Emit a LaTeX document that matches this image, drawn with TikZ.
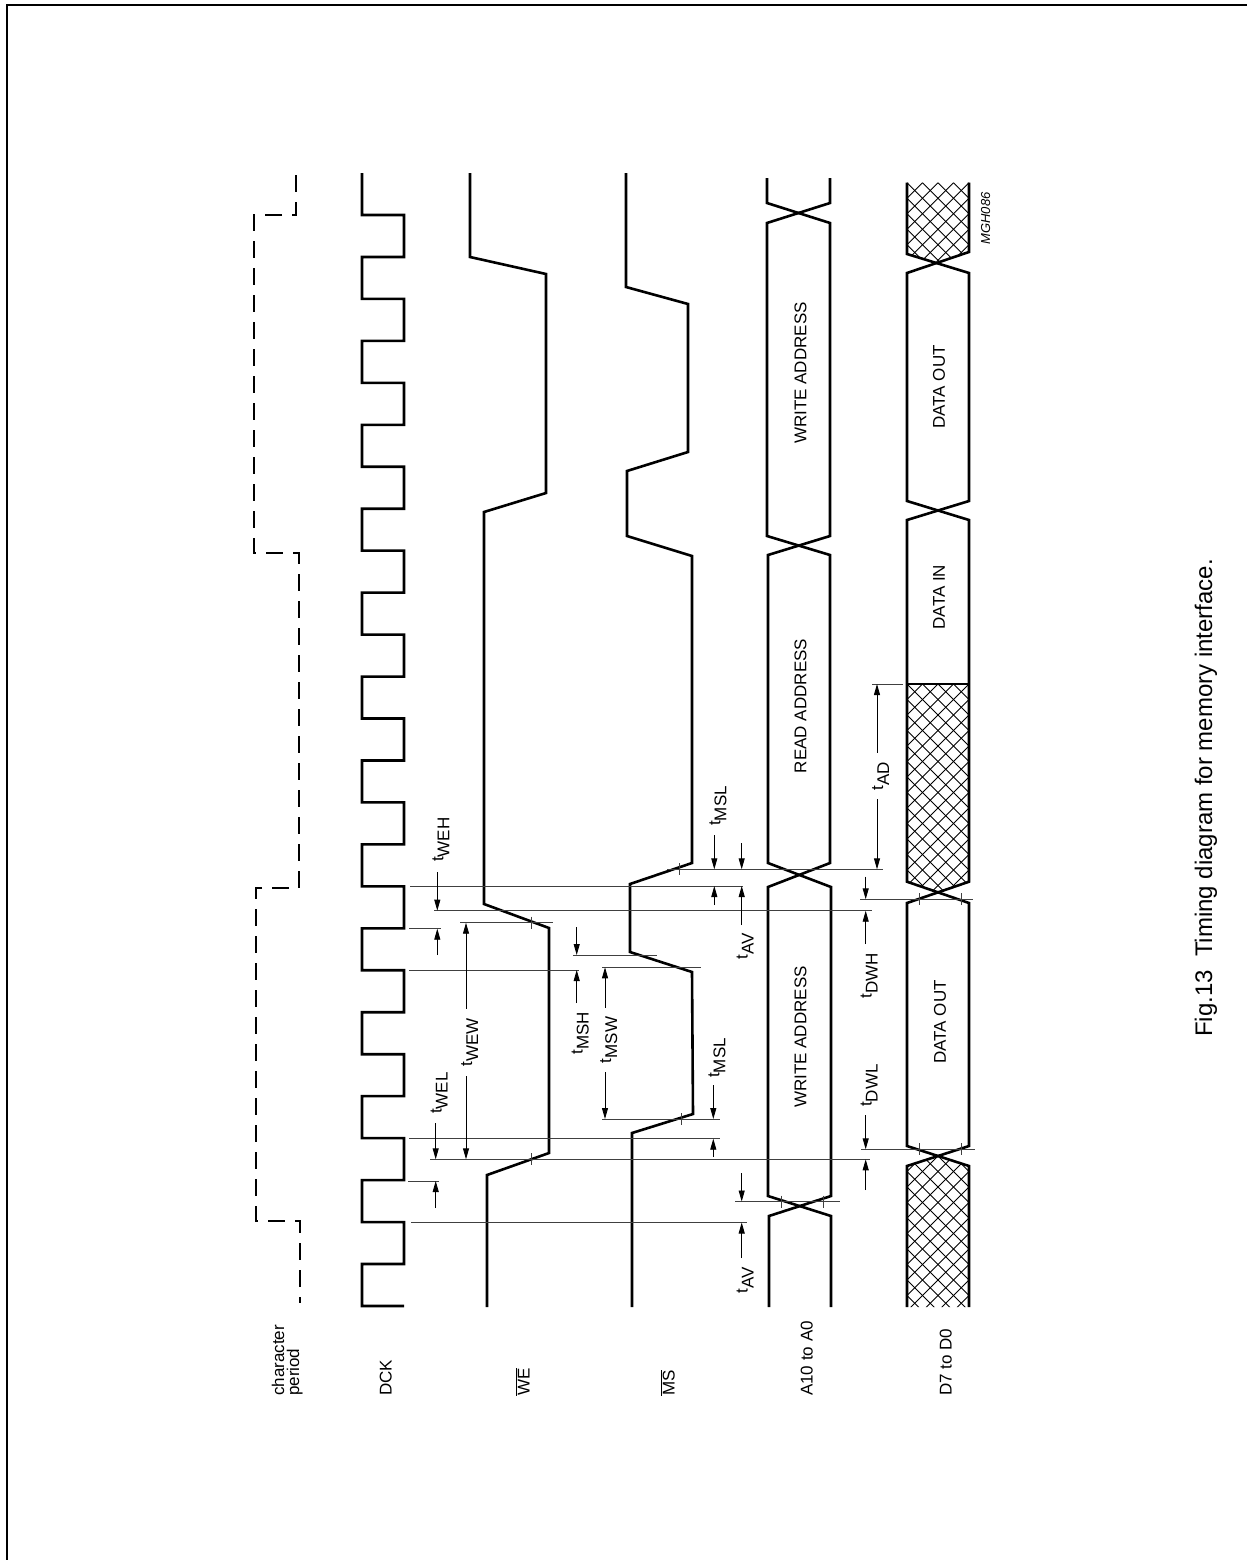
\documentclass[tikz,border=0pt]{standalone}
\usepackage{fontspec}
\setmainfont{Liberation Sans}
\usetikzlibrary{arrows.meta}
\newcommand\tsub[1]{t\raisebox{-6pt}{#1}}
\begin{document}
\begin{tikzpicture}[x=1pt,y=-1pt,
  sig/.style={line width=2.6pt, line join=miter, line cap=butt},
  per/.style={sig, dash pattern=on 17pt off 10pt},
  ext/.style={line width=0.9pt, black!75},
  tk/.style={line width=0.9pt, black!75},
  arr/.style={line width=0.9pt, -{Triangle[length=11pt,width=6pt]}},
  darr/.style={line width=0.9pt, {Triangle[length=11pt,width=6pt]}-{Triangle[length=11pt,width=6pt]}},
  hatchln/.style={line width=0.8pt},
  lbl/.style={font=\fontsize{17}{20}\selectfont, rotate=90, inner sep=0pt},
  mlbl/.style={lbl, fill=white, inner xsep=9pt, inner ysep=1pt},
]
\useasboundingbox (0,0) rectangle (1247,1560);
\draw[line width=2pt] (7,1560) -- (7,5) -- (1247,5);

% character period
\draw[per] (296,175) -- (296,215) -- (254,215) -- (254,553) -- (299,553) -- (299,888) -- (256,888) -- (256,1221) -- (300,1221) -- (300,1303);

% DCK
\draw[sig] (362,173) -- (362,215)
  \foreach \m in {0,...,12} { -- (404,{215+83.92*\m}) -- (404,{256.96+83.92*\m}) -- (362,{256.96+83.92*\m}) -- (362,{298.92+83.92*\m}) }
  -- (404,1305.96);

% WE
\draw[sig] (470,173) -- (470,257) -- (546,274) -- (546,493) -- (484,512) -- (484,904) -- (549,928) -- (549,1153) -- (487,1175) -- (487,1307);

% MS
\draw[sig] (626,173) -- (626,287) -- (688,304) -- (688,452) -- (627,471) -- (627,536) -- (692,556) -- (692,863) -- (630,884) -- (630,952) -- (692,972) -- (693,1114) -- (632,1133) -- (632,1307);

% Address bus
\draw[sig] (767,178) -- (767,203) -- (830,223) -- (830,536) -- (768,555) -- (768,863) -- (831,887) -- (831,1196) -- (769,1216) -- (769,1307);
\draw[sig] (830,178) -- (830,203) -- (767,223) -- (767,536) -- (830,555) -- (830,863) -- (768,887) -- (768,1196) -- (831,1216) -- (831,1307);

% Data bus hatching
\begin{scope}
  \clip (907,182.7) -- (969,182.7) -- (969,252) -- (938,262) -- (907,254) -- cycle;
  \foreach \k in {-16,...,16} {\draw[hatchln] ({907+15.5*\k},182.7) -- ++(250,250); \draw[hatchln] ({969-15.5*\k},182.7) -- ++(-250,250);}
\end{scope}
\begin{scope}
  \clip (907,684) -- (969,684) -- (969,881.7) -- (938,892) -- (907,881.7) -- cycle;
  \foreach \k in {-16,...,16} {\draw[hatchln] ({907+15.5*\k},684) -- ++(250,250); \draw[hatchln] ({969-15.5*\k},684) -- ++(-250,250);}
\end{scope}
\begin{scope}
  \clip (907,1166) -- (938,1156) -- (969,1166) -- (969,1307) -- (907,1307) -- cycle;
  \foreach \k in {-16,...,16} {\draw[hatchln] ({907+15.5*\k},1156) -- ++(250,250); \draw[hatchln] ({969-15.5*\k},1156) -- ++(-250,250);}
\end{scope}
% Data bus outline
\draw[sig] (907,182.7) -- (907,254) -- (969,273) -- (969,501) -- (907,520) -- (907,881.7) -- (969,903) -- (969,1146) -- (907,1166) -- (907,1307);
\draw[sig] (969,182.7) -- (969,252) -- (907,273) -- (907,501) -- (969,520) -- (969,881.7) -- (907,903) -- (907,1146) -- (969,1166) -- (969,1307);
\draw[sig] (907,684) -- (969,684);

% extension lines
\draw[ext] (872,684) -- (903,684);
\draw[ext] (667,869.3) -- (883,869.3);
\draw[ext] (410,886) -- (743,886);
\draw[ext] (860,899.3) -- (973,899.3);
\draw[ext] (434,910.7) -- (872,910.7);
\draw[ext] (460,922.7) -- (553,922.7);
\draw[ext] (409,928.7) -- (441,928.7);
\draw[ext] (573,955) -- (657,955);
\draw[ext] (602,967.3) -- (701,967.3);
\draw[ext] (409,970) -- (579,970);
\draw[ext] (602,1119) -- (720,1119);
\draw[ext] (409,1138.7) -- (720,1138.7);
\draw[ext] (861,1149.3) -- (975,1149.3);
\draw[ext] (430,1159.3) -- (870,1159.3);
\draw[ext] (408,1181) -- (439,1181);
\draw[ext] (735,1201.5) -- (840,1201.5);
\draw[ext] (411,1222.5) -- (747,1222.5);

% ticks
\foreach \x/\y in {679/869.3, 919/899.3, 961/899.3, 531/922.7, 681/1119, 919/1149.3, 961/1149.3, 531/1159.3, 781/1201.5, 823/1201.5}
  \draw[tk] (\x,{\y-6}) -- (\x,{\y+6});

% double arrows with labels
\draw[darr] (877,684) -- (877,869.3);
\node[mlbl, anchor=base] (tad) at (883,776) {\tsub{AD}};
\draw[darr] (466,922.7) -- (466,1159.3);
\node[mlbl, anchor=base] (twew) at (472,1042.5) {\tsub{WEW}};
\draw[darr] (605,967.3) -- (605,1119);
\node[mlbl, anchor=base] (tmsw) at (611,1040) {\tsub{MSW}};

% single arrows
\draw[arr] (437.3,872) -- (437.3,910.7);
\draw[arr] (437.3,955) -- (437.3,928.7);
\node[lbl, anchor=base west] (tweh) at (443.3,862) {\tsub{WEH}};

\draw[arr] (435.7,1123) -- (435.7,1159.3);
\draw[arr] (435.7,1208) -- (435.7,1181);
\node[lbl, anchor=base west] (twel) at (441.7,1114) {\tsub{WEL}};

\draw[arr] (576.7,927) -- (576.7,955);
\draw[arr] (576.7,1003) -- (576.7,970);
\node[lbl, anchor=base east] (tmsh) at (582.7,1012) {\tsub{MSH}};

\draw[arr] (714.3,835) -- (714.3,869.3);
\draw[arr] (714.3,905) -- (714.3,886);
\node[lbl, anchor=base west] (tmsla) at (720.3,826) {\tsub{MSL}};

\draw[arr] (741.7,843) -- (741.7,869.3);
\draw[arr] (741.7,925) -- (741.7,886);
\node[lbl, anchor=base east] (tava) at (747.7,933) {\tsub{AV}};

\draw[arr] (713.3,1085) -- (713.3,1119);
\draw[arr] (713.3,1157) -- (713.3,1138.7);
\node[lbl, anchor=base west] (tmslb) at (719.3,1078) {\tsub{MSL}};

\draw[arr] (741.7,1173) -- (741.7,1201.5);
\draw[arr] (741.7,1258) -- (741.7,1222.5);
\node[lbl, anchor=base east] (tavb) at (747.7,1267) {\tsub{AV}};

\draw[arr] (865.7,876.7) -- (865.7,899.3);
\draw[arr] (865.7,944) -- (865.7,910.7);
\node[lbl, anchor=base east] (tdwh) at (871.7,953) {\tsub{DWH}};

\draw[arr] (865.7,1115) -- (865.7,1149.3);
\draw[arr] (865.7,1190) -- (865.7,1159.3);
\node[lbl, anchor=base west] (tdwl) at (871.7,1107) {\tsub{DWL}};

% bus texts
\node[lbl] (wa1) at (800.5,373) {WRITE ADDRESS};
\node[lbl] (ra) at (800.5,706) {READ ADDRESS};
\node[lbl] (wa2) at (800.5,1037) {WRITE ADDRESS};
\node[lbl] (do1) at (939,387) {DATA OUT};
\node[lbl] (di) at (939,597) {DATA IN};
\node[lbl] (do2) at (940,1022) {DATA OUT};
\node[font=\fontsize{13}{15}\selectfont\itshape, rotate=90, inner sep=0pt, anchor=base] (mgh) at (990,218.5) {MGH086};

% signal names
\node[lbl, anchor=base west] (ncha) at (284,1396) {character};
\node[lbl, anchor=base west] (nper) at (299,1396) {period};
\node[lbl, anchor=base west] (ndck) at (391.5,1396) {DCK};
\node[lbl, anchor=base west] (nwe) at (529.5,1396) {$\overline{\hbox{WE}}$};
\node[lbl, anchor=base west] (nms) at (674.5,1396) {$\overline{\hbox{MS}}$};
\node[lbl, anchor=base west] (naddr) at (812.5,1396) {A10 to A0};
\node[lbl, anchor=base west] (ndata) at (951.5,1396) {D7 to D0};

% caption
\node[font=\fontsize{24}{28}\selectfont, rotate=90, inner sep=0pt, anchor=base west] (cap) at (1212,1037) {Fig.13\hspace{0.55em}Timing diagram for memory interface.};
\end{tikzpicture}
\end{document}
